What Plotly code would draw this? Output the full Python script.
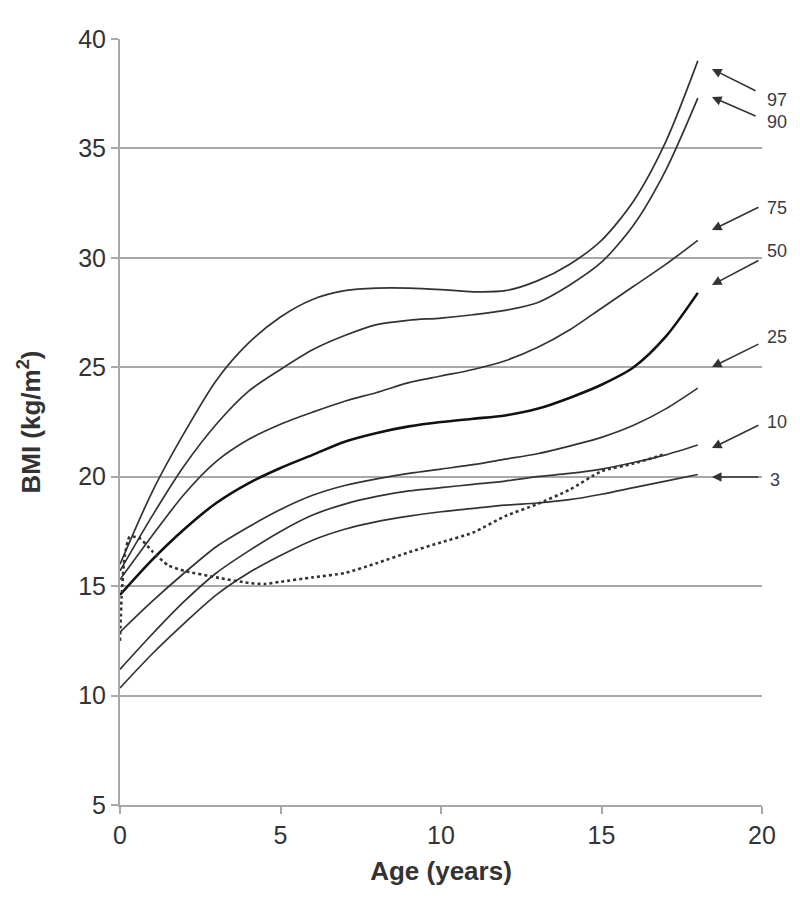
import plotly.graph_objects as go

AGES = list(range(0, 19))

P97 = [16.0, 19.3, 22.0, 24.4, 26.1, 27.3, 28.1, 28.5, 28.62, 28.62, 28.55, 28.45,
       28.5, 28.95, 29.7, 30.8, 32.6, 35.3, 39.0]
P90 = [15.7, 18.2, 20.5, 22.4, 23.9, 24.9, 25.8, 26.45, 26.95, 27.15, 27.25, 27.4,
       27.6, 27.95, 28.75, 29.8, 31.5, 34.0, 37.3]
P75 = [15.3, 17.3, 19.2, 20.7, 21.7, 22.4, 22.95, 23.45, 23.85, 24.3, 24.6, 24.9,
       25.3, 25.9, 26.7, 27.7, 28.7, 29.7, 30.8]
P50 = [14.6, 16.2, 17.6, 18.8, 19.7, 20.4, 21.0, 21.6, 22.0, 22.3, 22.5, 22.65,
       22.8, 23.1, 23.6, 24.2, 25.0, 26.4, 28.4]
P25 = [12.9, 14.3, 15.6, 16.8, 17.7, 18.5, 19.15, 19.6, 19.9, 20.15, 20.35, 20.55,
       20.8, 21.05, 21.4, 21.8, 22.35, 23.1, 24.05]
P10 = [11.2, 12.8, 14.3, 15.6, 16.6, 17.5, 18.25, 18.75, 19.1, 19.35, 19.5, 19.65,
       19.8, 20.0, 20.15, 20.35, 20.65, 21.0, 21.45]
P03 = [10.35, 11.9, 13.3, 14.6, 15.6, 16.4, 17.1, 17.6, 17.95, 18.2, 18.4, 18.55,
       18.7, 18.8, 18.95, 19.2, 19.5, 19.8, 20.1]

# individual patient trajectory (dotted)
PATIENT_AGE = [0, 0.05, 0.15, 0.3, 0.6, 1.0, 1.5, 2.0, 3.0, 4.0, 4.5, 5.0, 6.0, 7.0,
               8.0, 9.0, 10.0, 11.0, 12.0, 13.0, 14.0, 15.0, 16.0, 16.9]
PATIENT_BMI = [12.5, 14.5, 16.4, 17.25, 17.2, 16.6, 15.95, 15.7, 15.4, 15.15, 15.1,
               15.2, 15.4, 15.6, 16.05, 16.55, 17.0, 17.45, 18.2, 18.75, 19.4, 20.25,
               20.6, 21.0]

LABELS = ["97", "90", "75", "50", "25", "10", "3"]
# arrow head (age, bmi), arrow tail (age, bmi)
ARROW_HEAD = [(18.44, 38.63), (18.44, 37.35), (18.44, 31.27), (18.44, 28.76),
              (18.44, 25.01), (18.44, 21.31), (18.44, 19.99)]
ARROW_TAIL = [(19.94, 37.53), (19.94, 36.39), (20.03, 32.41), (20.03, 29.99),
              (20.03, 26.16), (20.03, 22.45), (20.03, 19.99)]
# label position: right edge in age units, bmi
LABEL_POS = [(20.83, 37.2), (20.83, 36.2), (20.83, 32.3), (20.83, 30.3),
             (20.83, 26.4), (20.83, 22.5), (20.62, 19.85)]

FONT = "Liberation Sans, Arial, sans-serif"
GRID = "#a8a8a8"
INK = "#333333"

fig = go.Figure()

for name, vals in zip(LABELS, [P97, P90, P75, P50, P25, P10, P03]):
    fig.add_trace(
        go.Scatter(
            x=AGES,
            y=vals,
            mode="lines",
            name=name,
            line={"color": "#111111" if name == "50" else INK,
                  "width": 2.6 if name == "50" else 1.7,
                  "shape": "spline", "smoothing": 0.8},
        )
    )

fig.add_trace(
    go.Scatter(
        x=PATIENT_AGE,
        y=PATIENT_BMI,
        mode="lines",
        name="patient",
        line={"color": INK, "width": 2.6, "dash": "dot", "shape": "spline", "smoothing": 0.6},
    )
)

for head, tail in zip(ARROW_HEAD, ARROW_TAIL):
    fig.add_annotation(
        x=head[0], y=head[1], xref="x", yref="y",
        ax=tail[0], ay=tail[1], axref="x", ayref="y",
        text=" ", showarrow=True,
        arrowhead=2, arrowsize=1.2, arrowwidth=1.6, arrowcolor=INK,
    )

for lab, pos in zip(LABELS, LABEL_POS):
    fig.add_annotation(
        x=pos[0] / 20.0, y=pos[1], xref="paper", yref="y",
        text=lab, showarrow=False, xanchor="right", yanchor="middle",
        font={"family": FONT, "size": 18, "color": "#3a3a45"},
    )

# page body adds an 8px margin, so the figure is sized to fit the window
# without any scrollbar
fig.update_layout(
    width=792,
    height=884,
    margin={"l": 112, "r": 38, "t": 31, "b": 87},
    paper_bgcolor="white",
    plot_bgcolor="white",
    showlegend=False,
    font={"family": FONT, "color": "#333333", "size": 22},
)
fig.update_xaxes(
    range=[0, 20],
    tickvals=[0, 5, 10, 15, 20],
    showgrid=False,
    zeroline=False,
    showline=True,
    linecolor=GRID,
    linewidth=2,
    ticks="outside",
    ticklen=7,
    tickwidth=1.5,
    tickcolor=GRID,
    tickfont={"size": 25},
    title={"text": "<b>Age (years)</b>", "font": {"size": 26}, "standoff": 14},
)
fig.update_yaxes(
    range=[5, 40],
    tickvals=[5, 10, 15, 20, 25, 30, 35, 40],
    showgrid=True,
    gridcolor=GRID,
    gridwidth=2,
    zeroline=False,
    showline=True,
    linecolor=GRID,
    linewidth=2,
    ticks="outside",
    ticklen=7,
    tickwidth=1.5,
    tickcolor=GRID,
    tickfont={"size": 25},
    title={"text": "<b>BMI (kg/m<sup>2</sup>)</b>", "font": {"size": 26}, "standoff": 30},
)

fig.write_html("out.html")
